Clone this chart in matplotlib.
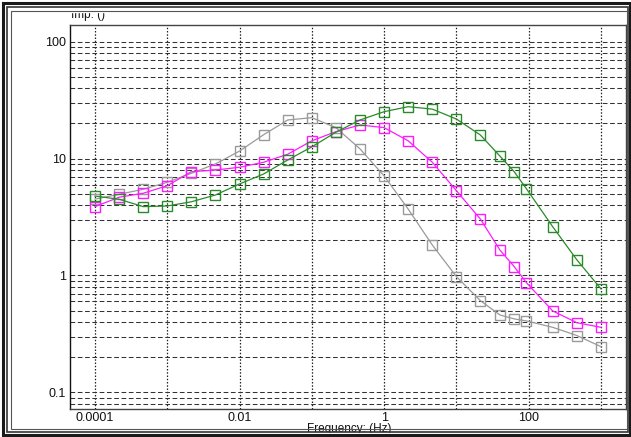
import numpy as np
import matplotlib
matplotlib.use("Agg")
import matplotlib.pyplot as plt
from matplotlib.patches import Rectangle
from matplotlib.ticker import LogLocator, FixedLocator, NullFormatter

plt.rcParams['font.family'] = ['Liberation Sans', 'DejaVu Sans']

# frequency points (Hz)
freq = [0.0001, 0.000215, 0.000464, 0.001, 0.00215, 0.00464, 0.01, 0.0215,
        0.0464, 0.1, 0.215, 0.464, 1, 2.15, 4.64, 10, 21.5, 40, 63, 93,
        215, 464, 1000]

# impedance
imp_gray = [4.5, 4.95, 5.46, 6.27, 7.48, 9.0, 11.6, 16.0, 21.4, 22.4, 18.4,
            12.1, 7.1, 3.7, 1.82, 0.977, 0.608, 0.459, 0.425, 0.408, 0.360,
            0.306, 0.246]
imp_magenta = [3.88, 4.67, 5.05, 5.86, 7.72, 7.98, 8.43, 9.3, 10.9, 14.2,
               17.0, 19.4, 18.4, 14.2, 9.3, 5.31, 3.03, 1.65, 1.19, 0.867,
               0.497, 0.394, 0.360]
imp_green = [4.78, 4.49, 3.88, 3.93, 4.27, 4.88, 6.07, 7.38, 9.73, 12.6,
             16.8, 21.4, 25.2, 27.8, 26.5, 21.8, 15.9, 10.5, 7.72, 5.52,
             2.61, 1.36, 0.767]

xticks = [0.0001, 0.01, 1, 100]
xtick_labels = ['0.0001', '0.01', '1', '100']
yticks = [0.1, 1, 10, 100]
ytick_labels = ['0.1', '1', '10', '100']

W, H = 631, 437
fig = plt.figure(figsize=(W / 100, H / 100), dpi=100)
fig.patch.set_facecolor('white')

# axes box in pixels: left 70, right 626, top 25, bottom 409
ax = fig.add_axes([70 / W, (H - 409) / H, (626 - 70) / W, (409 - 25) / H])
ax.set_xscale('log')
ax.set_yscale('log')
ax.set_xlim(4.51e-5, 2218)
ax.set_ylim(0.072, 139)

# grids: dotted verticals at decades, dashed horizontals at every minor step
for d in [1e-4, 1e-3, 1e-2, 1e-1, 1, 10, 100, 1000]:
    ax.axvline(d, color='#222222', lw=0.9, dashes=(1.2, 1.4), zorder=1)
hlines = [m * 10.0 ** e for e in range(-2, 3) for m in range(1, 10)]
for v in hlines:
    if 0.072 < v < 139:
        ax.axhline(v, color='#333333', lw=0.75, dashes=(4.5, 2.5), zorder=1)

mk = dict(marker='s', markersize=6.5, markerfacecolor='none',
          markeredgewidth=1.0, lw=0.9, zorder=3)
ax.plot(freq, imp_gray, color='#9a9a9a', **mk)
ax.plot(freq, imp_magenta, color='#ff1aff', **mk)
ax.plot(freq, imp_green, color='#2a8a2a', **mk)

ax.xaxis.set_major_locator(FixedLocator(xticks))
ax.set_xticklabels(xtick_labels)
ax.yaxis.set_major_locator(FixedLocator(yticks))
ax.set_yticklabels(ytick_labels)
ax.xaxis.set_minor_formatter(NullFormatter())
ax.yaxis.set_minor_formatter(NullFormatter())
ax.tick_params(which='both', length=0, labelsize=9, colors='#111111')
ax.tick_params(axis='y', pad=3)
ax.tick_params(axis='x', pad=2.5)
for s in ax.spines.values():
    s.set_color('#444444')
    s.set_linewidth(1.0)
ax.spines['left'].set_color('#111111')

fig.text(71 / W, 1 - 18 / H, 'Imp. ()', fontsize=8.5, va='baseline',
         ha='left', color='#111111', zorder=1)
fig.text(349 / W, 1 - 432 / H, 'Frequency: (Hz)', fontsize=8.5,
         va='baseline', ha='center', color='#111111', zorder=1)

# window-like double frame round the figure
def frame(x0, y0, x1, y1, lw, c):
    fig.patches.append(Rectangle((x0 / W, 1 - y1 / H), (x1 - x0) / W,
                                 (y1 - y0) / H, transform=fig.transFigure,
                                 fill=False, lw=lw, edgecolor=c, zorder=5))

fig.patches.append(Rectangle((0, 1 - 12 / H), 1, 12 / H,
                             transform=fig.transFigure, color='white',
                             zorder=4))
fig.patches.append(Rectangle((0, 0), 1, 4 / H,
                             transform=fig.transFigure, color='white',
                             zorder=4))
frame(2.5, 2.5, 629.5, 434.5, 2.2, '#1a1a1a')
frame(7, 7, 628, 432, 1.2, '#333333')
frame(11, 11, 627, 429, 0.8, '#555555')

fig.savefig('out.png', dpi=100)
